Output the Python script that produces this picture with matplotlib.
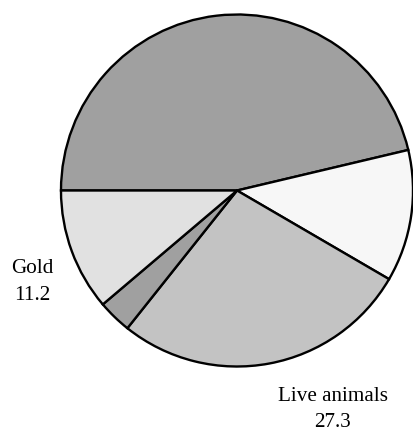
import matplotlib.pyplot as plt

# Shares, clockwise from the left horizontal
labels = ["", "", "Live animals", "", "Gold"]
values = [46.3, 12.1, 27.3, 3.1, 11.2]
colors = ["#a0a0a0", "#f7f7f7", "#c3c3c3", "#a0a0a0", "#e1e1e1"]

# label positions (data units, radius = 1)
label_pos = {"Live animals": (0.545, -1.245), "Gold": (-1.165, -0.52)}

fig = plt.figure(figsize=(4.13, 4.36), dpi=100)
ax = fig.add_axes([0, 0, 1, 1])

ax.pie(values, colors=colors, startangle=180, counterclock=False,
       radius=1.0, wedgeprops=dict(edgecolor="black", linewidth=1.7))

# pie centre sits at (237, 190) px with radius 176 px
ax.set_xlim(-237 / 176, (413 - 237) / 176)
ax.set_ylim(-(436 - 190.5) / 176, 190.5 / 176)
ax.set_aspect("auto")
ax.axis("off")

for lab, val in zip(labels, values):
    if lab:
        x, y = label_pos[lab]
        ax.text(x, y, f"{lab}\n{val}", ha="center", va="center",
                fontsize=15.2, family="Liberation Serif", linespacing=1.55)

fig.savefig("out.png", dpi=100)
